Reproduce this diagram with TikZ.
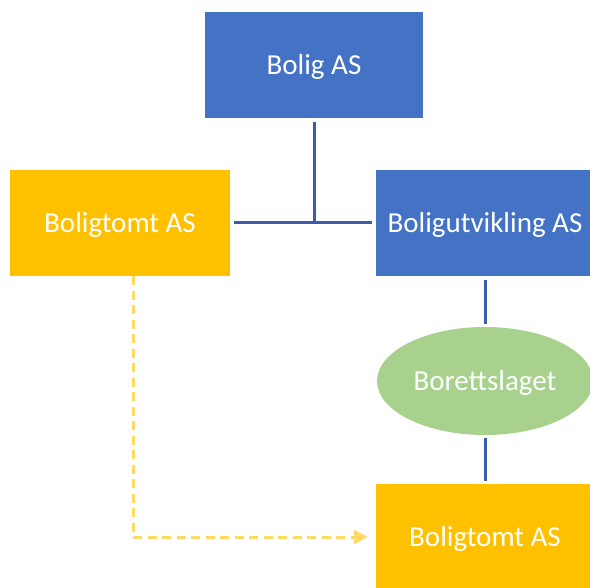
\documentclass[tikz,border=0pt]{standalone}
\usepackage{fontspec}
\setmainfont{Carlito}
\usetikzlibrary{arrows.meta,shapes.geometric}
\definecolor{boxblue}{HTML}{4472C4}
\definecolor{boxgold}{HTML}{FFC000}
\definecolor{ellgreen}{HTML}{A9D18E}
\definecolor{lineblue}{HTML}{3A5DA8}
\definecolor{dashgold}{HTML}{FFD966}
\tikzset{
  orgbox/.style={rectangle, draw=none, minimum width=218pt, minimum height=106pt, inner sep=0pt,
    text=white, font=\fontsize{29}{34}\selectfont, text height=24pt, text depth=4pt},
  bluebox/.style={orgbox, fill=boxblue},
  goldbox/.style={orgbox, fill=boxgold},
  ellnode/.style={ellipse, fill=ellgreen, draw=none, minimum width=216pt, minimum height=108pt,
    inner sep=0pt, text=white, font=\fontsize{29}{34}\selectfont, text height=24pt, text depth=4pt},
  link/.style={draw=lineblue, line width=3pt},
  dashlink/.style={draw=dashgold, line width=3pt, dash pattern=on 9pt off 5.5pt,
    -{Triangle[length=14pt,width=14pt]}}
}
\begin{document}
\begin{tikzpicture}[x=1pt,y=-1pt]
\useasboundingbox (0,0) rectangle (590,588);
\clip (0,0) rectangle (590,588);
\node[bluebox] (bolig) at (314,65) {Bolig AS};
\node[goldbox, minimum width=220pt] (tomt1) at (120,223) {Boligtomt AS};
\node[bluebox] (utv) at (485,223) {Boligutvikling AS};
\node[ellnode] (ell) at (485,381) {Borettslaget};
\node[goldbox] (tomt2) at (485,537) {Boligtomt AS};
\coordinate (junc) at (bolig.south |- tomt1.east);
\coordinate (dstart) at ([xshift=13pt]tomt1.south);
\draw[link, shorten <=4pt, shorten >=4pt] (tomt1.east) -- (utv.west);
\draw[link, shorten <=4pt] (bolig.south) -- (junc);
\draw[link, shorten <=4pt, shorten >=3pt] (utv.south) -- (ell.north);
\draw[link, shorten <=3pt, shorten >=3pt] (ell.south) -- (tomt2.north);
\draw[dashlink, shorten >=8pt] (dstart) |- (tomt2.west);
\end{tikzpicture}
\end{document}
